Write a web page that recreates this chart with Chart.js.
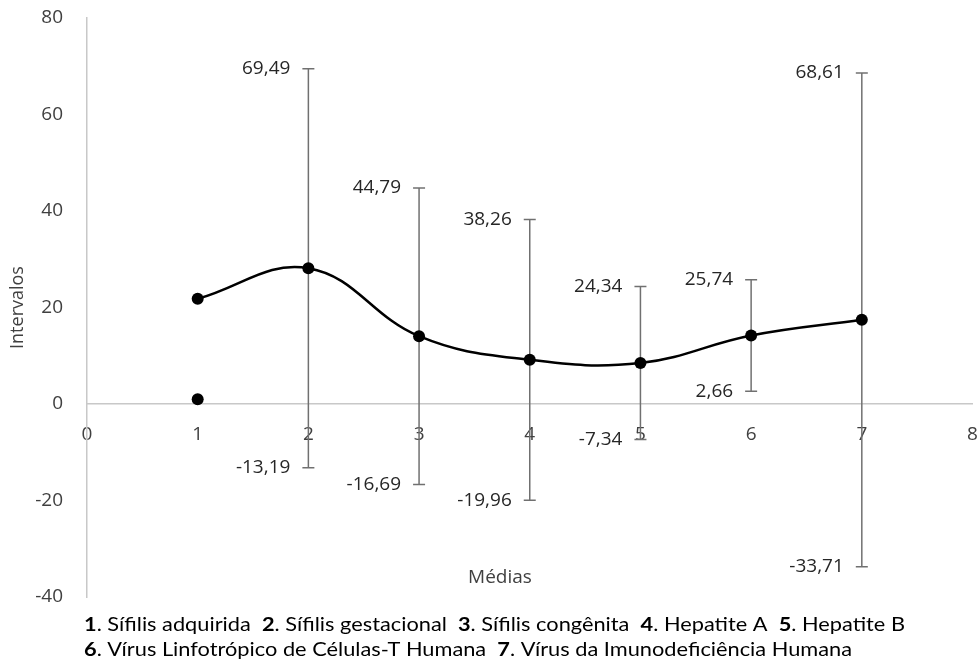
<!DOCTYPE html>
<html>
<head>
<meta charset="utf-8">
<script src="https://cdn.jsdelivr.net/npm/chart.js@4/dist/chart.umd.min.js"></script>
<style>
  html, body { margin: 0; padding: 0; background: #fff; }
</style>
</head>
<body>
<canvas id="mychart" width="980" height="663"></canvas>
<script>
// chart values
var groupNumbers = [1, 2, 3, 4, 5, 6, 7];
var meanValues = [21.8, 28.15, 14.05, 9.15, 8.5, 14.2, 17.45];
var loneX = [1];
var loneY = [1.0];
var intervalX = [2, 3, 4, 5, 6, 7];
var lowerValues = [-13.19, -16.69, -19.96, -7.34, 2.66, -33.71];
var upperValues = [69.49, 44.79, 38.26, 24.34, 25.74, 68.61];
var xTickValues = [0, 1, 2, 3, 4, 5, 6, 7, 8];
var yTickValues = [-40, -20, 0, 20, 40, 60, 80];
var captionLine1 = [['1', 'Sífilis adquirida'], ['2', 'Sífilis gestacional'], ['3', 'Sífilis congênita'], ['4', 'Hepatite A'], ['5', 'Hepatite B']];
var captionLine2 = [['6', 'Vírus Linfotrópico de Células-T Humana'], ['7', 'Vírus da Imunodeficiência Humana']];

var tickColor = '#404040';
var axisColor = '#c8c8c8';
var barColor = '#707070';
var fontName = '"Open Sans"';
var captionFont = 'Lato, "Open Sans"';

function fmt(v) {
    return v.toFixed(2).replace('.', ',');
}

var datasets = [];
// main mean line, drawn on top
datasets.push({
    label: 'Médias',
    data: groupNumbers.map(function (x, i) { return { x: x, y: meanValues[i] }; }),
    showLine: true,
    tension: 0.4,
    borderColor: '#000',
    borderWidth: 2.5,
    pointRadius: 6,
    pointBackgroundColor: '#000',
    pointBorderColor: '#000',
    pointBorderWidth: 0
});
datasets.push({
    label: 'lone',
    data: loneX.map(function (x, i) { return { x: x, y: loneY[i] }; }),
    showLine: false,
    pointRadius: 6,
    pointBackgroundColor: '#000',
    pointBorderWidth: 0
});
// error bars: one little dataset each, caps are 'line' points
for (var i = 0; i < intervalX.length; i++) {
    datasets.push({
        label: 'int' + intervalX[i],
        data: [{ x: intervalX[i], y: lowerValues[i] }, { x: intervalX[i], y: upperValues[i] }],
        showLine: true,
        borderColor: barColor,
        borderWidth: 1.5,
        pointStyle: 'line',
        pointRadius: 6,
        pointBorderColor: barColor,
        pointBorderWidth: 1.5
    });
}

var textPlugin = {
    id: 'textPlugin',
    afterDraw: function (chart) {
        var ctx = chart.ctx;
        var xs = chart.scales.x, ys = chart.scales.y;
        ctx.save();
        // interval value labels
        ctx.font = '19px ' + fontName;
        ctx.fillStyle = '#262626';
        ctx.textAlign = 'right';
        ctx.textBaseline = 'middle';
        for (var i = 0; i < intervalX.length; i++) {
            var px = xs.getPixelForValue(intervalX[i]) - 18;
            ctx.fillText(fmt(upperValues[i]), px, ys.getPixelForValue(upperValues[i]));
            ctx.fillText(fmt(lowerValues[i]), px, ys.getPixelForValue(lowerValues[i]));
        }
        // x title sits inside the plot
        ctx.textAlign = 'center';
        ctx.fillStyle = tickColor;
        ctx.fillText('Médias', 500, 578);

        // caption under the chart, bold numbers
        var lines = [captionLine1, captionLine2];
        var lineY = [631, 656];
        var targetW = [821, 768];
        for (var l = 0; l < lines.length; l++) {
            var parts = [];
            lines[l].forEach(function (p, k) {
                parts.push({ t: p[0], b: true });
                parts.push({ t: '. ' + p[1] + (k < lines[l].length - 1 ? '  ' : ''), b: false });
            });
            var w = 0;
            parts.forEach(function (p) {
                ctx.font = (p.b ? 'bold ' : '') + '19px ' + captionFont;
                p.w = ctx.measureText(p.t).width;
                w += p.w;
            });
            var sx = targetW[l] / w;
            ctx.save();
            ctx.translate(84, lineY[l]);
            ctx.scale(sx, 1);
            ctx.textAlign = 'left';
            ctx.textBaseline = 'alphabetic';
            ctx.fillStyle = '#000';
            var cx = 0;
            parts.forEach(function (p) {
                ctx.font = (p.b ? 'bold ' : '') + '19px ' + captionFont;
                ctx.fillText(p.t, cx, 0);
                cx += p.w;
            });
            ctx.restore();
        }
        ctx.restore();
    }
};

var ctx = document.getElementById('mychart').getContext('2d');
var chart = new Chart(ctx, {
    type: 'scatter',
    data: { datasets: datasets },
    options: {
        responsive: false,
        animation: false,
        layout: { padding: { top: 18, right: 6, bottom: 66, left: 0 } },
        plugins: {
            legend: { display: false },
            tooltip: { enabled: false }
        },
        scales: {
            x: {
                type: 'linear',
                position: { y: 0 },
                min: 0,
                max: 8,
                afterBuildTicks: function (scale) {
                    scale.ticks = xTickValues.map(function (v) { return { value: v }; });
                },
                afterFit: function (scale) {
                    scale.height = 0;
                    scale.paddingLeft = 0;
                    scale.paddingRight = 0;
                },
                ticks: {
                    color: tickColor,
                    font: { family: 'Open Sans', size: 19 },
                    padding: 19,
                    maxRotation: 0
                },
                grid: { color: 'rgba(0,0,0,0)', drawTicks: false },
                border: { display: true, color: axisColor, width: 1.5 }
            },
            y: {
                type: 'linear',
                position: 'left',
                min: -40,
                max: 80,
                afterBuildTicks: function (scale) {
                    scale.ticks = yTickValues.map(function (v) { return { value: v }; });
                },
                afterFit: function (scale) {
                    scale.width = 87;
                    scale.paddingTop = 0;
                    scale.paddingBottom = 0;
                },
                ticks: {
                    color: tickColor,
                    font: { family: 'Open Sans', size: 19 },
                    padding: 24
                },
                title: {
                    display: true,
                    text: 'Intervalos',
                    color: tickColor,
                    font: { family: 'Open Sans', size: 18 },
                    padding: { top: 7, bottom: 0 }
                },
                grid: { color: 'rgba(0,0,0,0)', drawTicks: false },
                border: { display: true, color: axisColor, width: 1.5 }
            }
        }
    },
    plugins: [textPlugin]
});
</script>
</body>
</html>
